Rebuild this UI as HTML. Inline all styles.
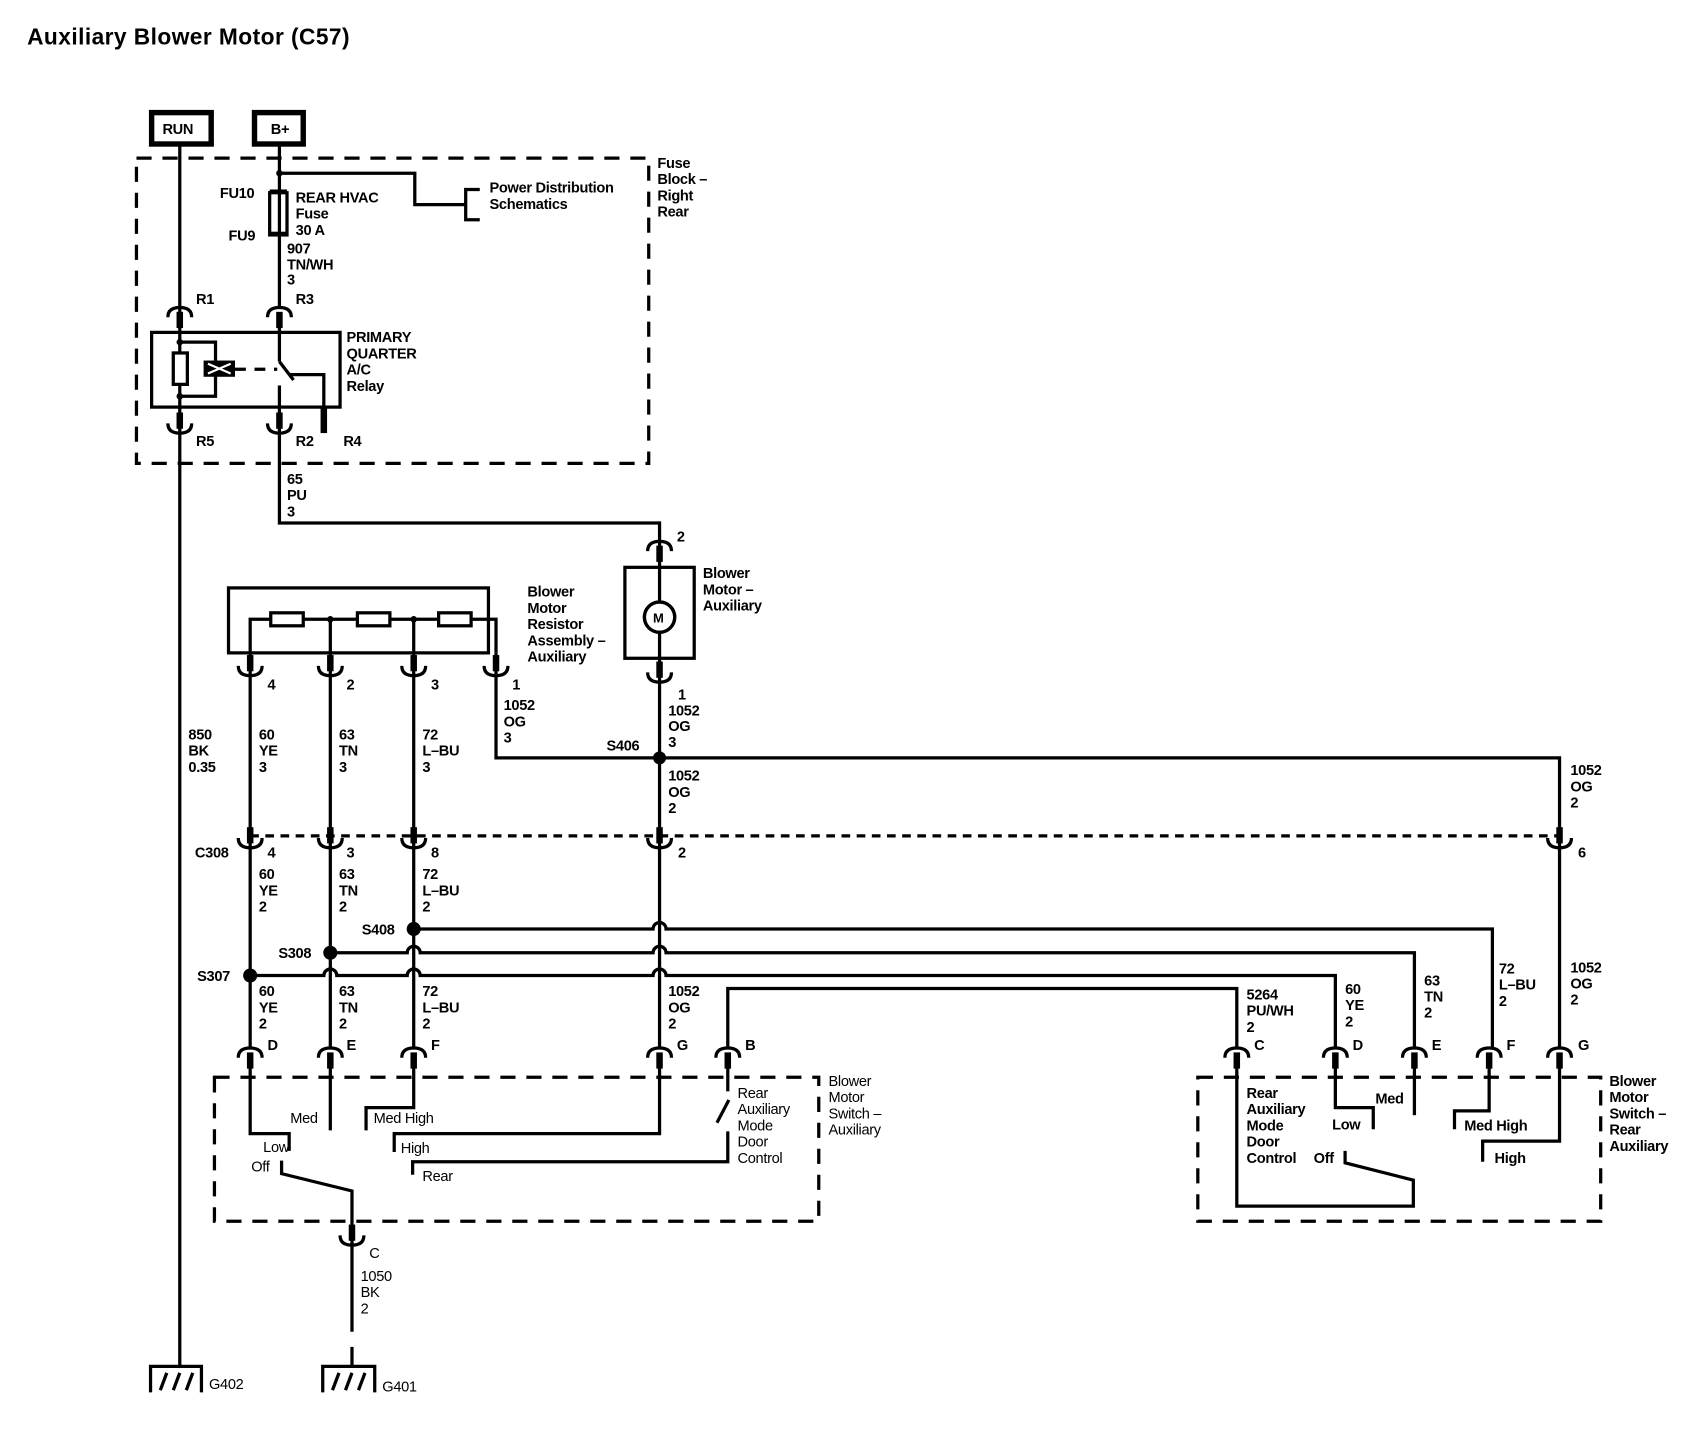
<!DOCTYPE html>
<html><head><meta charset="utf-8"><style>
html,body{margin:0;padding:0;background:#fff;}
svg{display:block;}
text{font-family:"Liberation Sans",sans-serif;font-size:13.5px;font-weight:bold;fill:#000;letter-spacing:-0.3px;}
</style></head><body>
<svg width="1696" height="1440" viewBox="0 0 1566 1330" preserveAspectRatio="none" xmlns="http://www.w3.org/2000/svg">
<defs>
<g id="cap"><path d="M-11,9 Q-11,0 0,0 Q11,0 11,9" fill="none" stroke="#000" stroke-width="3"/><rect x="-3" y="4" width="6" height="15" fill="#000"/></g>
<g id="cup"><path d="M-11,-9 Q-11,0 0,0 Q11,0 11,-9" fill="none" stroke="#000" stroke-width="3"/><rect x="-3" y="-19" width="6" height="15" fill="#000"/></g>
</defs>
<rect width="1566" height="1330" fill="#fff"/>
<text x="25" y="41" style="font-size:21px;letter-spacing:0.4px">Auxiliary Blower Motor (C57)</text>

<g fill="none" stroke="#000" stroke-width="3">
<rect x="140" y="104" width="55" height="29" stroke-width="5"/>
<rect x="235" y="104" width="45" height="29" stroke-width="5"/>
<rect x="126" y="146" width="473" height="282" stroke-dasharray="14 10"/>
<line x1="166" y1="133" x2="166" y2="1262"/>
<line x1="258" y1="133" x2="258" y2="284"/>
<polyline points="258,160 383,160 383,189 430,189"/>
<polyline points="443,175 430,175 430,203 443,203"/>
<rect x="249" y="178" width="16" height="39"/>
<rect x="140" y="307" width="174" height="69"/>
<polyline points="166,316 199,316 199,366 166,366"/>
<rect x="160" y="326" width="13" height="29" fill="#fff"/>
<line x1="217" y1="341" x2="256" y2="341" stroke-dasharray="10 8"/>
<line x1="258" y1="300" x2="258" y2="334"/>
<line x1="258" y1="334" x2="271" y2="351"/>
<polyline points="268,346 299,346 299,399"/>
<line x1="258" y1="356" x2="258" y2="400"/>
<polyline points="258,400 258,483 609,483 609,500"/>
<rect x="577" y="524" width="64" height="84"/>
<line x1="609" y1="500" x2="609" y2="968"/>
<circle cx="609" cy="570" r="14" fill="#fff"/>
<rect x="211" y="543" width="240" height="60"/>
<polyline points="231,603 231,572 458,572 458,603"/>
<rect x="250" y="566" width="30" height="12" fill="#fff"/>
<rect x="330" y="566" width="30" height="12" fill="#fff"/>
<rect x="405" y="566" width="30" height="12" fill="#fff"/>
<line x1="305" y1="572" x2="305" y2="968"/>
<line x1="382" y1="572" x2="382" y2="968"/>
<line x1="231" y1="603" x2="231" y2="968"/>
<polyline points="458,603 458,700 1440,700 1440,968"/>
<line x1="231" y1="772" x2="1440" y2="772" stroke-dasharray="8 6"/>
<path d="M382,858 L603,858 A6,6 0 0 1 615,858 L1378,858 L1378,968"/>
<path d="M305,880 L376,880 A6,6 0 0 1 388,880 L603,880 A6,6 0 0 1 615,880 L1306,880 L1306,968"/>
<path d="M231,901 L299,901 A6,6 0 0 1 311,901 L376,901 A6,6 0 0 1 388,901 L603,901 A6,6 0 0 1 615,901 L1233,901 L1233,968"/>
<polyline points="672,968 672,913 1142,913 1142,968"/>
<rect x="198" y="995" width="558" height="133" stroke-dasharray="14 10"/>
<polyline points="231,986 231,1047 267,1047 267,1063"/>
<line x1="305" y1="986" x2="305" y2="1044"/>
<polyline points="382,986 382,1023 338,1023 338,1044"/>
<polyline points="609,986 609,1047 364,1047 364,1064"/>
<line x1="672" y1="986" x2="672" y2="1008"/>
<line x1="673" y1="1016" x2="662" y2="1037"/>
<polyline points="672,1045 672,1073 381,1073 381,1085"/>
<polyline points="260,1072 260,1084 325,1100 325,1150"/>
<line x1="325" y1="1150" x2="325" y2="1230"/>
<line x1="325" y1="1244" x2="325" y2="1262"/>
<polyline points="139,1286 139,1262 186,1262 186,1286"/>
<line x1="148" y1="1284" x2="154" y2="1268"/><line x1="160" y1="1284" x2="166" y2="1268"/><line x1="172" y1="1284" x2="178" y2="1268"/>
<polyline points="298,1286 298,1262 346,1262 346,1286"/>
<line x1="307" y1="1284" x2="313" y2="1268"/><line x1="319" y1="1284" x2="325" y2="1268"/><line x1="331" y1="1284" x2="337" y2="1268"/>
<rect x="1106" y="995" width="372" height="133" stroke-dasharray="14 10"/>
<polyline points="1142,986 1142,1114 1305,1114 1305,1090 1242,1074 1242,1063"/>
<polyline points="1233,986 1233,1023 1268,1023 1268,1043"/>
<line x1="1306" y1="986" x2="1306" y2="1030"/>
<polyline points="1375,986 1375,1026 1343,1026 1343,1043"/>
<polyline points="1440,986 1440,1054 1369,1054 1369,1073"/>
</g>
<g fill="#000">
<rect x="249" y="175" width="16" height="4"/><rect x="249" y="214" width="16" height="4"/>
<circle cx="258" cy="160" r="3"/>
<circle cx="166" cy="316" r="3"/><circle cx="166" cy="366" r="3"/>
<rect x="188" y="333" width="29" height="15"/>
<path d="M192,336 L213,345 M192,345 L213,336" stroke="#fff" stroke-width="2"/>
<rect x="296" y="376" width="6" height="24"/>
<circle cx="305" cy="572" r="3"/><circle cx="382" cy="572" r="3"/>
<circle cx="609" cy="700" r="6"/>
<circle cx="382" cy="858" r="6.5"/><circle cx="305" cy="880" r="6.5"/><circle cx="231" cy="901" r="6.5"/>
</g>
<circle cx="609" cy="570" r="14" fill="none" stroke="#000" stroke-width="3"/>
<text x="603" y="575" style="font-size:12px">M</text>

<use href="#cap" x="166" y="284"/><use href="#cap" x="258" y="284"/>
<use href="#cup" x="166" y="400"/><use href="#cup" x="258" y="400"/>
<use href="#cap" x="609" y="500"/><use href="#cup" x="609" y="630"/>
<use href="#cup" x="231" y="624"/><use href="#cup" x="305" y="624"/><use href="#cup" x="382" y="624"/><use href="#cup" x="458" y="624"/>
<use href="#cup" x="231" y="783"/><use href="#cup" x="305" y="783"/><use href="#cup" x="382" y="783"/><use href="#cup" x="609" y="783"/><use href="#cup" x="1440" y="783"/>
<use href="#cap" x="231" y="968"/><use href="#cap" x="305" y="968"/><use href="#cap" x="382" y="968"/><use href="#cap" x="609" y="968"/><use href="#cap" x="672" y="968"/>
<use href="#cup" x="325" y="1150"/>
<use href="#cap" x="1142" y="968"/><use href="#cap" x="1233" y="968"/><use href="#cap" x="1306" y="968"/><use href="#cap" x="1375" y="968"/><use href="#cap" x="1440" y="968"/>

<text x="150" y="124">RUN</text><text x="250" y="124">B+</text>
<text x="607" y="155">Fuse</text><text x="607" y="170">Block –</text><text x="607" y="185">Right</text><text x="607" y="200">Rear</text>
<text x="452" y="178">Power Distribution</text><text x="452" y="193">Schematics</text>
<text x="203" y="183">FU10</text><text x="211" y="222">FU9</text>
<text x="273" y="187">REAR HVAC</text><text x="273" y="202">Fuse</text><text x="273" y="217">30 A</text>
<text x="265" y="234">907</text><text x="265" y="249">TN/WH</text><text x="265" y="263">3</text>
<text x="181" y="281">R1</text><text x="273" y="281">R3</text>
<text x="320" y="316">PRIMARY</text><text x="320" y="331">QUARTER</text><text x="320" y="346">A/C</text><text x="320" y="361">Relay</text>
<text x="181" y="412">R5</text><text x="273" y="412">R2</text><text x="317" y="412">R4</text>
<text x="265" y="447">65</text><text x="265" y="462">PU</text><text x="265" y="477">3</text>
<text x="625" y="500">2</text>
<text x="649" y="534">Blower</text><text x="649" y="549">Motor –</text><text x="649" y="564">Auxiliary</text>
<text x="487" y="551">Blower</text><text x="487" y="566">Motor</text><text x="487" y="581">Resistor</text><text x="487" y="596">Assembly –</text><text x="487" y="611">Auxiliary</text>
<text x="247" y="637">4</text><text x="320" y="637">2</text><text x="398" y="637">3</text><text x="473" y="637">1</text>
<text x="626" y="646">1</text><text x="617" y="661">1052</text><text x="617" y="675">OG</text><text x="617" y="690">3</text>
<text x="465" y="656">1052</text><text x="465" y="671">OG</text><text x="465" y="686">3</text>
<text x="560" y="693">S406</text>
<text x="174" y="683">850</text><text x="174" y="698">BK</text><text x="174" y="713">0.35</text>
<text x="239" y="683">60</text><text x="239" y="698">YE</text><text x="239" y="713">3</text>
<text x="313" y="683">63</text><text x="313" y="698">TN</text><text x="313" y="713">3</text>
<text x="390" y="683">72</text><text x="390" y="698">L–BU</text><text x="390" y="713">3</text>
<text x="617" y="721">1052</text><text x="617" y="736">OG</text><text x="617" y="751">2</text>
<text x="1450" y="716">1052</text><text x="1450" y="731">OG</text><text x="1450" y="746">2</text>
<text x="180" y="792">C308</text><text x="247" y="792">4</text><text x="320" y="792">3</text><text x="398" y="792">8</text><text x="626" y="792">2</text><text x="1457" y="792">6</text>
<text x="239" y="812">60</text><text x="239" y="827">YE</text><text x="239" y="842">2</text>
<text x="313" y="812">63</text><text x="313" y="827">TN</text><text x="313" y="842">2</text>
<text x="390" y="812">72</text><text x="390" y="827">L–BU</text><text x="390" y="842">2</text>
<text x="334" y="863">S408</text><text x="257" y="885">S308</text><text x="182" y="906">S307</text>
<text x="239" y="920">60</text><text x="239" y="935">YE</text><text x="239" y="950">2</text>
<text x="313" y="920">63</text><text x="313" y="935">TN</text><text x="313" y="950">2</text>
<text x="390" y="920">72</text><text x="390" y="935">L–BU</text><text x="390" y="950">2</text>
<text x="617" y="920">1052</text><text x="617" y="935">OG</text><text x="617" y="950">2</text>
<text x="247" y="970">D</text><text x="320" y="970">E</text><text x="398" y="970">F</text><text x="625" y="970">G</text><text x="688" y="970">B</text>
<text x="1151" y="923">5264</text><text x="1151" y="938">PU/WH</text><text x="1151" y="953">2</text>
<text x="1242" y="918">60</text><text x="1242" y="933">YE</text><text x="1242" y="948">2</text>
<text x="1315" y="910">63</text><text x="1315" y="925">TN</text><text x="1315" y="940">2</text>
<text x="1384" y="899">72</text><text x="1384" y="914">L–BU</text><text x="1384" y="929">2</text>
<text x="1450" y="898">1052</text><text x="1450" y="913">OG</text><text x="1450" y="928">2</text>
<text x="1158" y="970">C</text><text x="1249" y="970">D</text><text x="1322" y="970">E</text><text x="1391" y="970">F</text><text x="1457" y="970">G</text>
<text x="268" y="1037" style="font-weight:normal">Med</text>
<text x="345" y="1037" style="font-weight:normal">Med High</text>
<text x="243" y="1064" style="font-weight:normal">Low</text>
<text x="370" y="1065" style="font-weight:normal">High</text>
<text x="232" y="1082" style="font-weight:normal">Off</text>
<text x="390" y="1091" style="font-weight:normal">Rear</text>
<text x="681" y="1014" style="font-weight:normal">Rear</text><text x="681" y="1029" style="font-weight:normal">Auxiliary</text><text x="681" y="1044" style="font-weight:normal">Mode</text><text x="681" y="1059" style="font-weight:normal">Door</text><text x="681" y="1074" style="font-weight:normal">Control</text>
<text x="765" y="1003" style="font-weight:normal">Blower</text><text x="765" y="1018" style="font-weight:normal">Motor</text><text x="765" y="1033" style="font-weight:normal">Switch –</text><text x="765" y="1048" style="font-weight:normal">Auxiliary</text>
<text x="341" y="1162" style="font-weight:normal">C</text>
<text x="333" y="1183" style="font-weight:normal">1050</text><text x="333" y="1198" style="font-weight:normal">BK</text><text x="333" y="1213" style="font-weight:normal">2</text>
<text x="193" y="1283" style="font-weight:normal">G402</text><text x="353" y="1285" style="font-weight:normal">G401</text>
<text x="1151" y="1014">Rear</text><text x="1151" y="1029">Auxiliary</text><text x="1151" y="1044">Mode</text><text x="1151" y="1059">Door</text><text x="1151" y="1074">Control</text>
<text x="1213" y="1074">Off</text>
<text x="1230" y="1043">Low</text><text x="1270" y="1019">Med</text>
<text x="1352" y="1044">Med High</text><text x="1380" y="1074">High</text>
<text x="1486" y="1003">Blower</text><text x="1486" y="1018">Motor</text><text x="1486" y="1033">Switch –</text><text x="1486" y="1048">Rear</text><text x="1486" y="1063">Auxiliary</text>
</svg>
</body></html>
